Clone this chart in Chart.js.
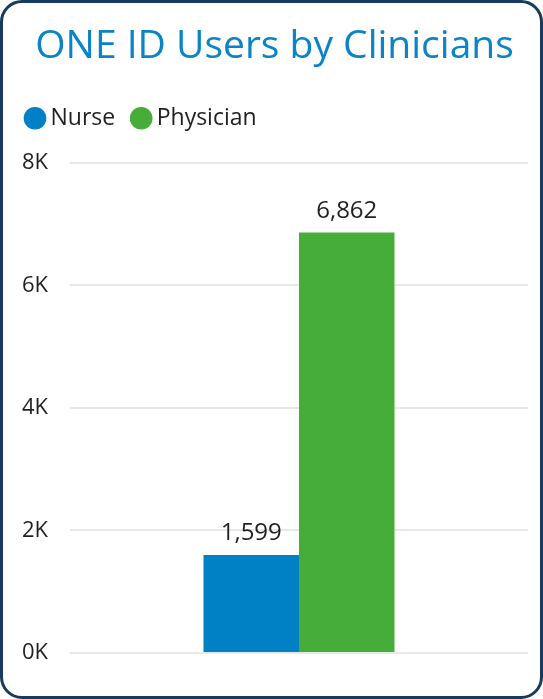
<!DOCTYPE html>
<html>
<head>
<meta charset="utf-8">
<script src="https://cdn.jsdelivr.net/npm/chart.js@4/dist/chart.umd.min.js"></script>
<style>
  html, body { margin: 0; padding: 0; background: #ffffff; }
  #frame {
    position: absolute; left: 0; top: 0;
    width: 537px; height: 693px;
    border: 3px solid #173a5e;
    border-radius: 22px;
    background: #ffffff;
    overflow: hidden;
  }
  #wrap { position: absolute; left: 0; top: 0; width: 537px; height: 693px; }
</style>
</head>
<body>
<div id="frame"><div id="wrap"><canvas id="c"></canvas></div></div>
<script>
const categories = [""];
const seriesNames = ["Nurse", "Physician"];
const nurseValues = [1599];
const physicianValues = [6862];
const tickValues = [0, 2000, 4000, 6000, 8000];
const tickLabels = ["0K", "2K", "4K", "6K", "8K"];

const FONT = "'Open Sans', 'Noto Sans', sans-serif";

const valueLabels = {
  id: 'valueLabels',
  afterDatasetsDraw(chart) {
    const ctx = chart.ctx;
    ctx.save();
    ctx.font = "24px " + FONT;
    ctx.fillStyle = "#1f1f1f";
    ctx.textAlign = "center";
    ctx.textBaseline = "alphabetic";
    chart.data.datasets.forEach((ds, i) => {
      const meta = chart.getDatasetMeta(i);
      meta.data.forEach((el, j) => {
        const v = ds.data[j];
        ctx.fillText(v.toLocaleString('en-US'), el.x, el.y - 15);
      });
    });
    ctx.restore();
  }
};

// extra space below the legend row; centre the title on the card
const layoutTweaks = {
  id: 'layoutTweaks',
  beforeUpdate(chart) {
    const lg = chart.legend;
    if (lg && !lg._gapPatched) {
      const origFit = lg.fit;
      lg.fit = function () { origFit.call(this); this.height += 23; };
      lg._gapPatched = true;
    }
  },
  afterLayout(chart) {
    const tb = chart.titleBlock;
    if (tb) { tb.left += 6; tb.right += 6; }
  }
};

new Chart(document.getElementById('c'), {
  type: 'bar',
  data: {
    labels: categories,
    datasets: [
      { label: seriesNames[0], data: nurseValues, backgroundColor: '#0081c6', borderWidth: 0 },
      { label: seriesNames[1], data: physicianValues, backgroundColor: '#45ad38', borderWidth: 0 }
    ]
  },
  options: {
    responsive: true,
    maintainAspectRatio: false,
    animation: false,
    layout: { padding: { left: 6, right: 12, top: 20, bottom: 35 } },
    datasets: { bar: { categoryPercentage: 0.417, barPercentage: 1.0 } },
    plugins: {
      title: {
        display: true,
        text: 'ONE ID Users by Clinicians',
        color: '#0a84c6',
        font: { family: FONT, size: 39, weight: 'normal' },
        padding: { top: 0, bottom: 15 }
      },
      legend: {
        display: true,
        align: 'start',
        labels: {
          usePointStyle: true,
          pointStyle: 'circle',
          boxWidth: 8,
          boxHeight: 16,
          color: '#1f1f1f',
          font: { family: FONT, size: 23 },
          padding: 22
        }
      },
      tooltip: { enabled: false }
    },
    scales: {
      x: {
        grid: { display: false },
        border: { display: false },
        ticks: { display: false }
      },
      y: {
        min: 0, max: 8000,
        afterBuildTicks(axis) { axis.ticks = tickValues.map(v => ({ value: v })); },
        afterFit(axis) { axis.width = 61; },
        grid: { color: '#e8e8e8', lineWidth: 2, drawTicks: false },
        border: { display: false },
        ticks: {
          padding: 22,
          color: '#1f1f1f',
          font: { family: FONT, size: 22 },
          callback: (v) => tickLabels[tickValues.indexOf(v)]
        }
      }
    }
  },
  plugins: [valueLabels, layoutTweaks]
});
</script>
</body>
</html>
